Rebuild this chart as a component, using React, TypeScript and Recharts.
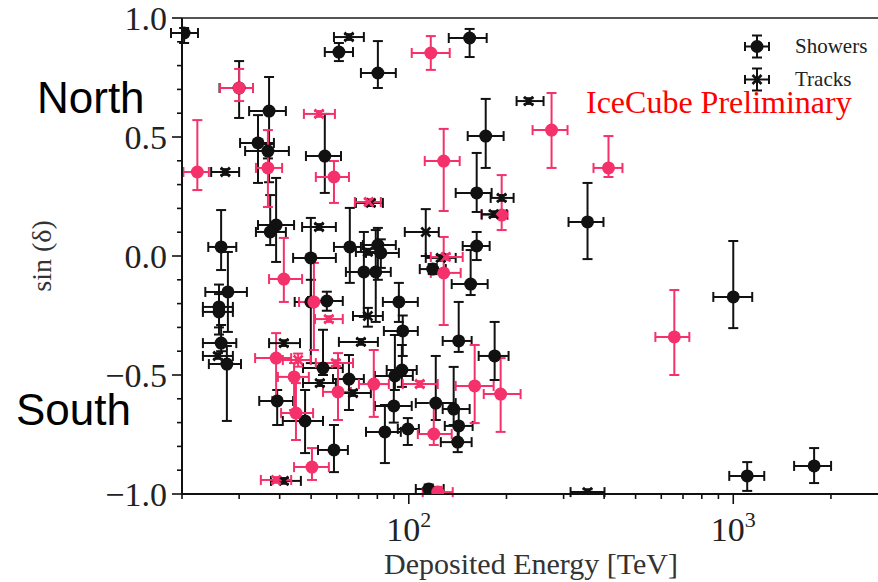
import React from 'react';
import { ScatterChart, Scatter, XAxis, YAxis, ErrorBar, ReferenceLine, Legend } from 'recharts';

// rows: [energy TeV, energy low, energy high, sin(dec), sin low, sin high]
type Row = [number, number, number, number, number, number];

const showersOther: Row[] = [
  [20.3, 18.5, 22.4, 0.937, 0.895, 0.958],
  [60.9, 55.1, 67.3, 0.857, 0.819, 0.895],
  [80.3, 71.2, 91.2, 0.769, 0.706, 0.903],
  [154, 132.8, 173.8, 0.916, 0.836, 0.954],
  [172.6, 151.9, 196, 0.504, 0.37, 0.66],
  [355.5, 310.7, 398.1, 0.143, -0.013, 0.307],
  [1000, 868, 1144, -0.172, -0.303, 0.063],
  [1104, 972, 1246, -0.924, -0.987, -0.866],
  [1775, 1540, 2002, -0.882, -0.954, -0.807],
  [161.9, 139.5, 180, 0.265, 0.185, 0.433],
  [161.9, 146.6, 177.5, 0.042, -0.017, 0.101],
  [155.1, 135.6, 175, -0.118, -0.164, 0.025],
  [118.5, 108.1, 130, -0.055, -0.076, -0.034],
  [142.5, 127.2, 156.2, -0.357, -0.403, -0.193],
  [183.9, 164.2, 203, -0.42, -0.521, -0.277],
  [121.1, 105.1, 139.5, -0.618, -0.689, -0.42],
  [137.5, 127.2, 154, -0.643, -0.71, -0.466],
  [142.5, 129.1, 157.3, -0.714, -0.782, -0.643],
  [141.5, 125.5, 156.2, -0.782, -0.824, -0.714],
  [90.6, 78.6, 102.9, -0.504, -0.563, -0.332],
  [95.2, 85.5, 105.8, -0.479, -0.55, -0.374],
  [89.9, 78.6, 102.1, -0.63, -0.7, -0.5],
  [84.4, 73.8, 94.5, -0.739, -0.87, -0.626],
  [99.3, 92.5, 107.4, -0.727, -0.794, -0.681],
  [115.2, 105.1, 128.1, -0.979, -1.0, -0.96],
  [65.8, 58.8, 71.2, 0.038, -0.113, 0.202],
  [72.7, 64, 80.9, -0.067, -0.256, 0.101],
  [79.1, 71.2, 88, -0.067, -0.277, 0.109],
  [80.3, 72.2, 91.2, 0.046, -0.1, 0.118],
  [82, 73.8, 93.2, 0.013, -0.05, 0.07],
  [93.2, 83.2, 106.6, -0.193, -0.277, -0.113],
  [95.8, 83.8, 106.6, -0.315, -0.42, -0.25],
  [26.4, 24.1, 29.4, 0.038, -0.059, 0.193],
  [27.7, 23.6, 31.7, -0.151, -0.319, 0.017],
  [26.0, 23.2, 28.7, -0.214, -0.3, -0.12],
  [26.0, 23.2, 28.7, -0.235, -0.33, -0.16],
  [26.4, 23.2, 29.4, -0.366, -0.4, -0.29],
  [27.5, 24.2, 30.4, -0.454, -0.693, -0.378],
  [30.0, 26.1, 33.1, 0.706, 0.58, 0.819],
  [37.1, 32.2, 41.8, 0.609, 0.31, 0.752],
  [34.3, 30.2, 38.4, 0.475, 0.307, 0.592],
  [36.8, 31.3, 42.7, 0.441, 0.41, 0.47],
  [55.1, 48.2, 61.8, 0.42, 0.265, 0.597],
  [39.0, 34.3, 44.3, 0.13, -0.025, 0.328],
  [37.4, 33.8, 41.8, 0.101, 0.046, 0.256],
  [49.9, 44, 59.6, -0.008, -0.193, 0.16],
  [55.9, 48.9, 62.6, -0.189, -0.23, -0.15],
  [49.9, 44.5, 56, -0.193, -0.45, -0.1],
  [39.3, 34.6, 44, -0.609, -0.71, -0.563],
  [47.9, 40.9, 54.4, -0.693, -0.828, -0.563],
  [54.4, 47.2, 62.6, -0.471, -0.5, -0.31],
  [65.4, 58.4, 72.7, -0.517, -0.647, -0.416],
  [58.8, 52.5, 64.9, -0.815, -0.908, -0.71],
];

const tracksOther: Row[] = [
  [65.4, 58.8, 72.7, 0.92, 0.908, 0.932],
  [234, 214.9, 260.2, 0.651, 0.639, 0.663],
  [355.5, 315.2, 401, -0.992, -1.0, -0.98],
  [193.3, 178.8, 210.4, 0.244, 0.232, 0.256],
  [182.6, 167.7, 200.2, 0.176, 0.164, 0.188],
  [112.8, 97.2, 123.7, 0.101, 0.0, 0.197],
  [125.5, 112.8, 139.5, -0.008, -0.02, 0.004],
  [74.8, 68.7, 83.2, 0.017, 0.005, 0.03],
  [76.4, 68.7, 83.2, 0.223, 0.21, 0.236],
  [74.8, 67.3, 83.2, -0.252, -0.297, -0.218],
  [27.2, 24.6, 30.0, 0.353, 0.341, 0.365],
  [25.8, 23.2, 28.7, -0.42, -0.432, -0.408],
  [52.9, 46.9, 59.6, 0.122, 0.11, 0.134],
  [41.2, 37.1, 46.2, -0.366, -0.378, -0.354],
  [71.2, 60.9, 80.3, -0.361, -0.373, -0.349],
  [53.2, 47.2, 59.6, -0.534, -0.546, -0.522],
  [67.3, 60.5, 76.4, -0.576, -0.588, -0.564],
  [41.2, 37.6, 46.5, -0.945, -0.957, -0.933],
];

const showersNew: Row[] = [
  [116.9, 102.1, 133.7, 0.853, 0.782, 0.924],
  [275.4, 240.7, 308.5, 0.529, 0.37, 0.685],
  [412.5, 370.9, 455.5, 0.37, 0.332, 0.504],
  [658.2, 575.4, 732.1, -0.34, -0.5, -0.143],
  [193.3, 167.7, 201.6, 0.172, 0.109, 0.34],
  [128.1, 116.9, 144.5, -0.071, -0.29, 0.08],
  [128.1, 112, 143.5, 0.399, 0.189, 0.534],
  [191.9, 170.2, 221.1, -0.58, -0.739, -0.429],
  [159.6, 139.5, 182.6, -0.546, -0.702, -0.374],
  [119.4, 106.6, 135.6, -0.748, -0.794, -0.618],
  [78.0, 70.2, 86.8, -0.538, -0.676, -0.395],
  [122.8, 110.4, 136.6, -0.992, -1.0, -0.97],
  [22.3, 20.2, 24.2, 0.353, 0.277, 0.571],
  [30.0, 26.2, 33.1, 0.706, 0.651, 0.786],
  [36.8, 33.8, 40.7, 0.37, 0.206, 0.529],
  [58.8, 51.7, 65.4, 0.332, 0.223, 0.399],
  [41.2, 37.1, 46.9, -0.097, -0.193, 0.076],
  [51.0, 45.9, 56.7, -0.193, -0.395, -0.029],
  [39.0, 33.6, 43.4, -0.429, -0.592, -0.324],
  [44.3, 39.5, 49.2, -0.508, -0.647, -0.45],
  [44.9, 40.4, 50.7, -0.66, -0.773, -0.534],
  [60.5, 54.4, 66.3, -0.571, -0.689, -0.408],
  [50.3, 44.3, 56.7, -0.887, -0.941, -0.807],
];

const tracksNew: Row[] = [
  [130, 116.9, 146.6, -0.004, -0.016, 0.008],
  [108.1, 95.8, 122.8, -0.538, -0.55, -0.526],
  [75.3, 68.2, 82, 0.227, 0.215, 0.239],
  [52.9, 47.5, 59.2, 0.597, 0.585, 0.609],
  [56.7, 51.4, 62.6, -0.265, -0.277, -0.253],
  [45.6, 40.9, 49.9, -0.437, -0.465, -0.41],
  [59.6, 51.7, 67.3, -0.45, -0.462, -0.438],
  [39.0, 35.0, 43.4, -0.941, -0.953, -0.929],
];

const legendLabels = ['Showers', 'Tracks'];

const xMajorTicks = [100, 1000];
const xMajorExponents = ['2', '3'];
const xMinorTicks = [20, 30, 40, 50, 60, 70, 80, 90, 200, 300, 400, 500, 600, 700, 800, 900, 2000];
const xDomain = [20, 2793];

const yMajorTicks = [-1, -0.5, 0, 0.5, 1];
const yMajorLabels = ['\u22121.0', '\u22120.5', '0.0', '0.5', '1.0'];
const yMinorTicks = [-0.9, -0.8, -0.7, -0.6, -0.4, -0.3, -0.2, -0.1, 0.1, 0.2, 0.3, 0.4, 0.6, 0.7, 0.8, 0.9];

const BLACK = '#111111';
const PINK = '#f5316b';
const SERIF = "'Liberation Serif', 'DejaVu Serif', serif";
const SANS = "'Liberation Sans', Arial, sans-serif";

const build = (rows: Row[]) =>
  rows.map(([e, eLo, eHi, s, sLo, sHi]) => ({ e, s, ex: [e - eLo, eHi - e], ey: [s - sLo, sHi - s] }));

const dotShape = (color: string) => (p: any) => <circle cx={p.cx} cy={p.cy} r={6.5} fill={color} />;
const crossShape = (color: string) => (p: any) => {
  const d = 4.5;
  return (
    <g stroke={color} strokeWidth={2.6}>
      <line x1={p.cx - d} y1={p.cy - d} x2={p.cx + d} y2={p.cy + d} />
      <line x1={p.cx - d} y1={p.cy + d} x2={p.cx + d} y2={p.cy - d} />
    </g>
  );
};

const XTick = (props: any) => {
  const { x, y, payload } = props;
  const idx = xMajorTicks.indexOf(payload.value);
  const major = idx >= 0;
  return (
    <g>
      <line x1={x} x2={x} y1={y} y2={y + (major ? 10 : 5)} stroke={BLACK} strokeWidth={1.6} />
      {major && (
        <text x={x} y={y + 47} textAnchor="middle" fontFamily={SERIF} fontSize={34} fill="#222">
          10
          <tspan dy={-14} fontSize={22}>{xMajorExponents[idx]}</tspan>
        </text>
      )}
    </g>
  );
};

const YTick = (props: any) => {
  const { x, y, payload } = props;
  const idx = yMajorTicks.indexOf(payload.value);
  const major = idx >= 0;
  return (
    <g>
      <line x1={x} x2={x - (major ? 10 : 5)} y1={y} y2={y} stroke={BLACK} strokeWidth={1.6} />
      {major && (
        <text x={x - 15} y={y} dy="0.35em" textAnchor="end" fontFamily={SERIF} fontSize={34} fill="#222">
          {yMajorLabels[idx]}
        </text>
      )}
    </g>
  );
};

const LegendMarker = ({ kind }: { kind: string }) => (
  <svg width={34} height={33} style={{ display: 'block' }}>
    <g stroke={BLACK} strokeWidth={2}>
      <line x1={5} x2={29} y1={16.5} y2={16.5} />
      <line x1={5} x2={5} y1={12} y2={21} />
      <line x1={29} x2={29} y1={12} y2={21} />
      <line x1={17} x2={17} y1={5.5} y2={27.5} />
      <line x1={12} x2={22} y1={5.5} y2={5.5} />
      <line x1={12} x2={22} y1={27.5} y2={27.5} />
    </g>
    {kind === 'Showers' ? (
      <circle cx={17} cy={16.5} r={6.5} fill={BLACK} />
    ) : (
      <g stroke={BLACK} strokeWidth={2.6}>
        <line x1={12.5} y1={12} x2={21.5} y2={21} />
        <line x1={12.5} y1={21} x2={21.5} y2={12} />
      </g>
    )}
  </svg>
);

const renderLegend = () => (
  <div>
    {legendLabels.map((l) => (
      <div key={l} style={{ display: 'flex', alignItems: 'center', height: 33 }}>
        <LegendMarker kind={l} />
        <span style={{ marginLeft: 21, fontFamily: SERIF, fontSize: 21, color: '#222' }}>{l}</span>
      </div>
    ))}
  </div>
);

export default function App() {
  const allTicksX = [...xMinorTicks, ...xMajorTicks].sort((a, b) => a - b);
  const allTicksY = [...yMinorTicks, ...yMajorTicks].sort((a, b) => a - b);
  const series = [
    { name: 'Showers', data: build(showersOther), color: BLACK, shape: dotShape(BLACK) },
    { name: 'Showers new', data: build(showersNew), color: PINK, shape: dotShape(PINK) },
    { name: 'Tracks', data: build(tracksOther), color: BLACK, shape: crossShape(BLACK) },
    { name: 'Tracks new', data: build(tracksNew), color: PINK, shape: crossShape(PINK) },
  ];
  return (
    <div style={{ position: 'absolute', left: 0, top: 0, width: 878, height: 582, background: '#fff' }}>
      <ScatterChart width={878} height={582} margin={{ top: 18, right: 0, bottom: 0, left: 0 }}>
        <XAxis
          type="number"
          dataKey="e"
          scale="log"
          domain={xDomain}
          allowDataOverflow
          ticks={allTicksX}
          interval={0}
          tickSize={0}
          tickMargin={0}
          tick={<XTick />}
          tickLine={false}
          height={88}
          axisLine={{ stroke: BLACK, strokeWidth: 2 }}
        />
        <YAxis
          type="number"
          dataKey="s"
          domain={[-1, 1]}
          allowDataOverflow
          ticks={allTicksY}
          interval={0}
          tickSize={0}
          tickMargin={0}
          tick={<YTick />}
          tickLine={false}
          width={182}
          axisLine={{ stroke: BLACK, strokeWidth: 2 }}
        />
        <ReferenceLine y={1} stroke="#555" strokeWidth={2} />
        {series.map((sr) => (
          <Scatter key={sr.name} name={sr.name} data={sr.data} shape={sr.shape} isAnimationActive={false}>
            <ErrorBar dataKey="ex" direction="x" width={5} stroke={sr.color} strokeWidth={2} isAnimationActive={false} />
            <ErrorBar dataKey="ey" direction="y" width={5} stroke={sr.color} strokeWidth={2} isAnimationActive={false} />
          </Scatter>
        ))}
        <Legend
          layout="horizontal"
          verticalAlign="middle"
          align="center"
          content={renderLegend}
          wrapperStyle={{ left: 740, top: 30, width: 138, height: 66 }}
        />
      </ScatterChart>
      <svg width={878} height={582} style={{ position: 'absolute', left: 0, top: 0, pointerEvents: 'none' }}>
        <text x={586} y={113} fontFamily={SERIF} fontSize={32} fill="#ff0000">IceCube Preliminary</text>
        <text x={37} y={113} fontFamily={SANS} fontSize={44} fill="#000">North</text>
        <text x={16} y={425} fontFamily={SANS} fontSize={44} fill="#000">South</text>
        <text x={531} y={574} textAnchor="middle" fontFamily={SERIF} fontSize={30} fill="#333">Deposited Energy [TeV]</text>
        <text x={51} y={256} textAnchor="middle" fontFamily={SERIF} fontSize={28} fill="#333" transform="rotate(-90 51 256)">sin (δ)</text>
      </svg>
    </div>
  );
}
